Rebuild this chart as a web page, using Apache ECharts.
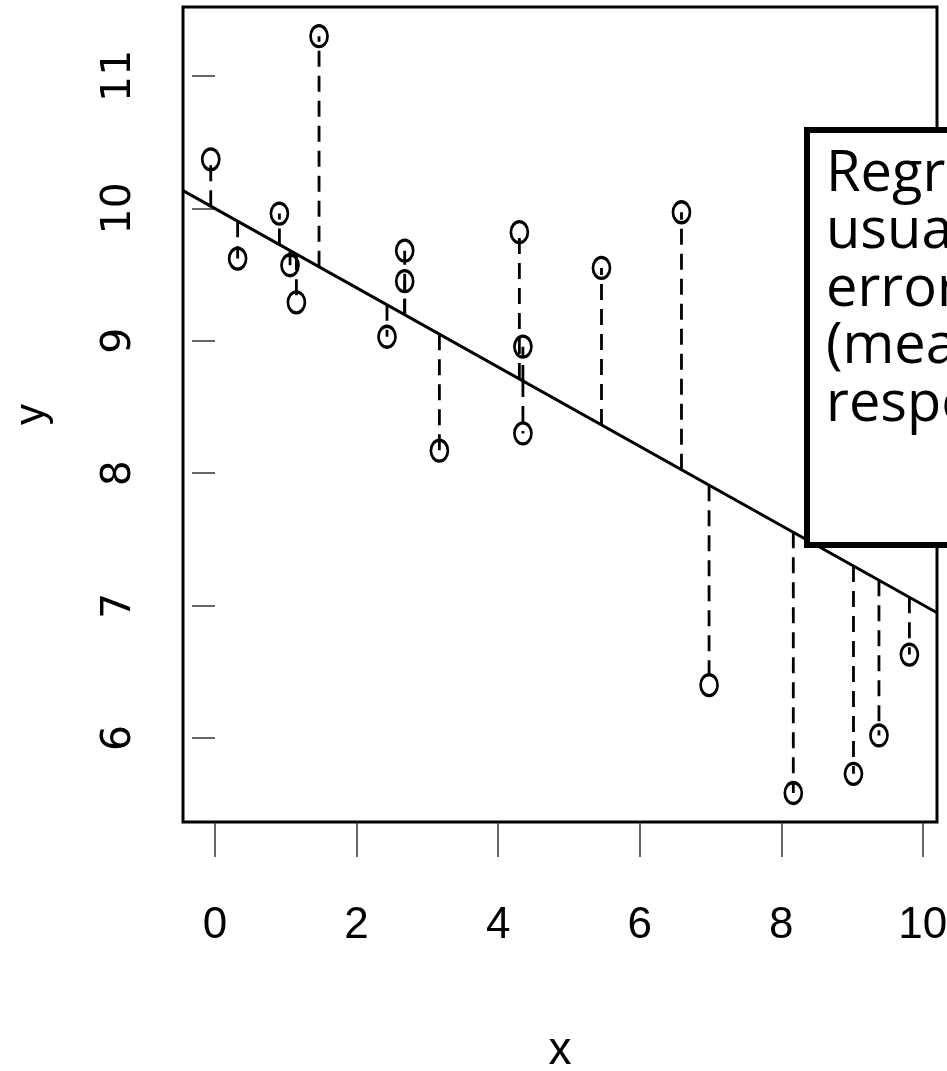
<!DOCTYPE html>
<html>
<head>
<meta charset="utf-8">
<script src="https://cdn.jsdelivr.net/npm/echarts@6/dist/echarts.min.js"></script>
<style>
html,body{margin:0;padding:0;background:#fff;overflow:hidden;}
#chart{width:947px;height:1071px;}
</style>
</head>
<body>
<div id="chart"></div>
<script>
// ---- data ----
const xValues = [-0.06, 0.32, 0.91, 1.06, 1.15, 1.47, 2.43, 2.68, 2.68, 3.17, 4.30, 4.35, 4.35, 5.46, 6.59, 6.98, 8.17, 9.02, 9.38, 9.81];
const yValues = [10.37, 9.62, 9.96, 9.57, 9.29, 11.30, 9.03, 9.68, 9.45, 8.17, 9.82, 8.955, 8.30, 9.55, 9.97, 6.40, 5.585, 5.73, 6.02, 6.63];
const fitIntercept = 9.998;
const fitSlope = -0.2992;
const xTicks = [0, 2, 4, 6, 8, 10];
const yTicks = [6, 7, 8, 9, 10, 11];
const xRange = [-0.452, 10.2];
const yRange = [5.366, 11.52];
const xName = 'x';
const yName = 'y';
const noteLines = ['Regression', 'usually assumes', 'error only in y', '(measurement', 'response)'];

const fitted = xValues.map(x => fitIntercept + fitSlope * x);
const points = xValues.map((x, i) => [x, yValues[i]]);
const residuals = xValues.map((x, i) => [x, yValues[i], fitted[i]]);
const fitLine = xRange.map(x => [x, fitIntercept + fitSlope * x]);

const sansNarrow = 'Liberation Sans Narrow, Liberation Sans, Roboto, sans-serif';
const sans = 'Liberation Sans, Roboto, sans-serif';

const chart = echarts.init(document.getElementById('chart'), null, {renderer: 'canvas'});
chart.setOption({
  animation: false,
  backgroundColor: '#fff',
  grid: {
    left: 183, right: 10, top: 7, bottom: 249,
    outerBoundsMode: 'none', containLabel: false,
    show: true, borderColor: '#000', borderWidth: 3, backgroundColor: 'transparent'
  },
  xAxis: {
    type: 'value', min: xRange[0], max: xRange[1],
    name: xName, nameLocation: 'middle', nameGap: 206,
    nameTextStyle: {fontFamily: sansNarrow, fontSize: 46, color: '#000'},
    axisLine: {show: false},
    splitLine: {show: false},
    axisTick: {show: true, length: 35, customValues: xTicks, lineStyle: {color: '#333', width: 1.5}},
    axisLabel: {customValues: xTicks, margin: 82, fontFamily: sansNarrow, fontSize: 44, color: '#000', hideOverlap: false}
  },
  yAxis: {
    type: 'value', min: yRange[0], max: yRange[1],
    name: yName, nameLocation: 'middle', nameGap: 130, nameRotate: 90,
    nameTextStyle: {fontFamily: sans, fontSize: 42, color: '#000'},
    axisLine: {show: false},
    splitLine: {show: false},
    axisTick: {show: true, length: 23, customValues: yTicks, lineStyle: {color: '#333', width: 1.5}},
    axisLabel: {customValues: yTicks, rotate: 90, margin: 43, fontFamily: 'DejaVu Sans', fontSize: 41, color: '#000', hideOverlap: false}
  },
  series: [
    {
      type: 'line', data: fitLine, symbol: 'none', silent: true,
      lineStyle: {color: '#000', width: 3}, z: 3
    },
    {
      type: 'custom', data: residuals, silent: true, z: 2,
      renderItem: function (params, api) {
        const p1 = api.coord([api.value(0), api.value(2)]);
        const p2 = api.coord([api.value(0), api.value(1)]);
        return {
          type: 'line',
          shape: {x1: p1[0], y1: p1[1], x2: p2[0], y2: p2[1]},
          style: {stroke: '#000', lineWidth: 2.8, lineDash: [16, 9], fill: null}
        };
      }
    },
    {
      type: 'scatter', data: points, symbol: 'circle', symbolSize: [17, 21], z: 4,
      itemStyle: {color: 'rgba(0,0,0,0)', borderColor: '#000', borderWidth: 3, opacity: 1}
    }
  ],
  graphic: [
    {
      type: 'rect', z: 100,
      shape: {x: 807, y: 130, width: 400, height: 415},
      style: {fill: '#fff', stroke: '#000', lineWidth: 6}
    },
    {
      type: 'text', z: 101,
      style: {
        text: noteLines.join('\n'), x: 826, y: 146,
        fontFamily: 'Open Sans', fontSize: 56, lineHeight: 57.5, fill: '#000'
      }
    }
  ]
});
</script>
</body>
</html>
